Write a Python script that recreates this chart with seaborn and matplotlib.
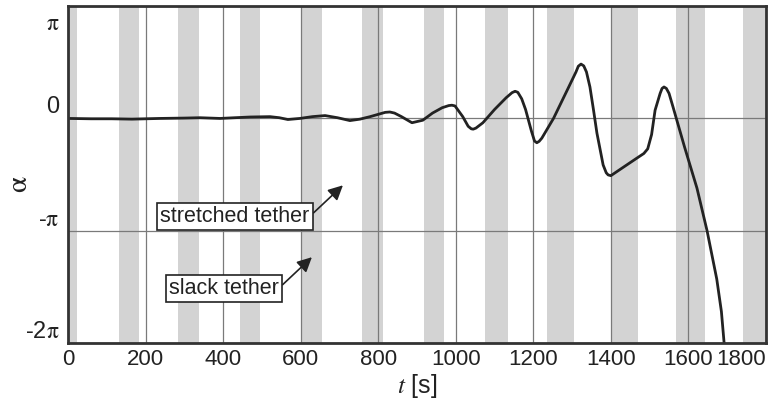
import numpy as np
import pandas as pd
import seaborn as sns
import matplotlib
matplotlib.use("Agg")
import matplotlib.pyplot as plt
from matplotlib.transforms import ScaledTranslation

# slack tether phases (grey bands), start / end time in s
band_start = [0, 132, 284, 443, 601, 758, 918, 1075, 1235, 1403, 1568, 1741]
band_end = [23, 183, 338, 495, 655, 812, 970, 1135, 1305, 1470, 1643, 1800]

# angle alpha over time
t_s = [0, 60, 113, 165, 237, 300, 340, 392, 430, 470,
       521, 545, 567, 598, 630, 663, 695, 727, 753, 779,
       805, 818, 830, 842, 860, 887, 915, 940, 965, 982,
       990, 998, 1018, 1032, 1040, 1045, 1052, 1070, 1100, 1130,
       1145, 1153, 1160, 1170, 1180, 1195, 1203, 1209, 1215, 1222,
       1252, 1290, 1310, 1316, 1323, 1330, 1337, 1346, 1355, 1364,
       1380, 1388, 1393, 1400, 1430, 1467, 1485, 1495, 1505, 1514,
       1527, 1532, 1537, 1543, 1550, 1560, 1590, 1622, 1648, 1673,
       1685, 1692]
alpha = [0, -0.01, -0.01, -0.02, 0, 0.01, 0.02, 0.0, 0.02, 0.04,
         0.05, 0.02, -0.03, 0.0, 0.05, 0.08, 0.02, -0.06, -0.02, 0.05,
         0.13, 0.17, 0.18, 0.15, 0.05, -0.12, -0.05, 0.15, 0.30, 0.36,
         0.37, 0.35, 0.05, -0.22, -0.29, -0.30, -0.27, -0.12, 0.25, 0.58,
         0.72, 0.76, 0.73, 0.55, 0.25, -0.35, -0.63, -0.68, -0.64, -0.55,
         0.0, 0.85, 1.30, 1.46, 1.52, 1.47, 1.30, 0.88, 0.25, -0.41,
         -1.30, -1.52, -1.58, -1.60, -1.38, -1.11, -0.98, -0.85, -0.45, 0.23,
         0.70, 0.84, 0.88, 0.84, 0.70, 0.33, -0.80, -1.95, -3.14, -4.49,
         -5.40, -6.28]

x_ticks = [0, 200, 400, 600, 800, 1000, 1200, 1400, 1600, 1800]
y_ticks = [np.pi, 0, -np.pi, -2 * np.pi]
y_tick_labels = [r"$\mathrm{\pi}$", "0", r"-$\mathrm{\pi}$", r"-2$\mathrm{\pi}$"]

df = pd.DataFrame({"t": t_s, "alpha": alpha})

sns.set_style("white")
plt.rcParams["font.family"] = ["Liberation Sans", "DejaVu Sans"]
plt.rcParams["mathtext.fontset"] = "stix"

fig = plt.figure(figsize=(7.7, 4.07), dpi=100)
ax = fig.add_axes([0.0883, 0.157, 0.9065, 0.828])

for s, e in zip(band_start, band_end):
    ax.axvspan(s, e, color="#d3d3d3", lw=0, zorder=1)

sns.lineplot(x="t", y="alpha", data=df, sort=False, estimator=None,
             color="#222222", lw=2, ax=ax, zorder=4)

ax.set_xlim(0, 1800)
ax.set_ylim(-2 * np.pi, np.pi)
ax.set_xticks(x_ticks)
ax.set_yticks(y_ticks)
ax.set_yticklabels(y_tick_labels)
ax.tick_params(length=0, labelsize=16, colors="#222222")
ax.tick_params(axis="y", labelsize=17)
ax.tick_params(axis="x", pad=4)
ax.tick_params(axis="y", pad=6)
ax.grid(True, color="#7a7a7a", lw=0.9)
ax.set_axisbelow(False)
for gl in ax.get_xgridlines() + ax.get_ygridlines():
    gl.set_zorder(2)

# y labels sit just above their grid line
for lab in ax.get_yticklabels():
    lab.set_verticalalignment("bottom")
ylabs = ax.get_yticklabels()
ylabs[0].set_verticalalignment("top")
ylabs[0].set_transform(ylabs[0].get_transform() + ScaledTranslation(0, -5 / 72, fig.dpi_scale_trans))
xlabs = ax.get_xticklabels()
xlabs[-1].set_horizontalalignment("right")

for sp in ax.spines.values():
    sp.set_color("#333333")
    sp.set_linewidth(2)
    sp.set_zorder(5)

ax.set_xlabel("$t$ [s]", fontsize=18, color="#222222", labelpad=2)
ax.set_ylabel(r"$\mathrm{\alpha}$", fontsize=21, color="#222222")
ax.yaxis.set_label_coords(-0.05, 0.47)

box = dict(boxstyle="square,pad=0.15", fc="white", ec="#222222", lw=1.2)
arrow = dict(arrowstyle="-|>", color="#222222", lw=1.2, mutation_scale=22,
             relpos=(1, 0.5), shrinkA=0, shrinkB=0)
ax.annotate("stretched tether", xy=(709, -1.87), xytext=(431, -2.74),
            ha="center", va="center", fontsize=15.5, color="#222222",
            bbox=box, arrowprops=arrow, zorder=6)
ax.annotate("slack tether", xy=(629, -3.88), xytext=(402, -4.75),
            ha="center", va="center", fontsize=15.5, color="#222222",
            bbox=box, arrowprops=arrow, zorder=6)

fig.savefig("out.png", dpi=100)
